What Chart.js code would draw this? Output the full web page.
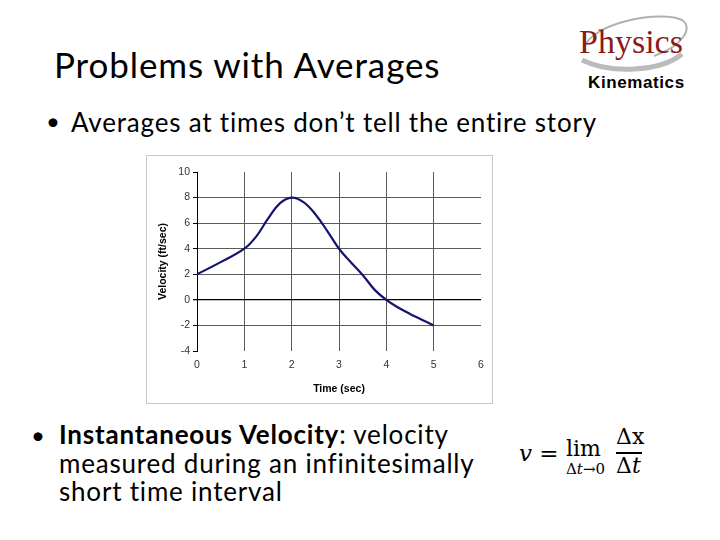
<!DOCTYPE html>
<html>
<head>
<meta charset="utf-8">
<script src="https://cdn.jsdelivr.net/npm/chart.js@4.4.1/dist/chart.umd.min.js"></script>
<style>
  body { margin: 0; background: #fff; }
  #slide { position: relative; width: 720px; height: 540px; overflow: hidden; font-family: Lato, "Open Sans", sans-serif; color: #000; }
  .abs { position: absolute; white-space: nowrap; }
  #title { left: 54px; top: 43px; font-size: 35px; letter-spacing: 0.9px; }
  #dot1 { left: 46px; top: 106px; font-size: 24px; }
  #bullet1 { left: 71px; top: 106px; font-size: 26px; letter-spacing: 0.8px; }
  #dot2 { left: 31px; top: 420px; font-size: 24px; }
  #bullet2 { left: 59px; top: 420px; font-size: 26px; line-height: 28.5px; letter-spacing: 0.8px; }
  #chartBox { left: 146px; top: 155px; width: 345px; height: 247px; border: 1px solid #c8c8c8; background: #fff; }
  #physics { left: 579px; top: 23px; font-family: "Liberation Serif", serif; font-size: 34px; color: #8b1a1a; }
  #kin { left: 588px; top: 73px; font-family: "Liberation Sans", Arial, sans-serif; font-weight: bold; font-size: 17px; letter-spacing: 0.6px; }
  .m { position: absolute; white-space: nowrap; font-family: "DejaVu Serif", serif; }
</style>
</head>
<body>
<div id="slide">
  <svg class="abs" style="left:570px;top:10px" width="150" height="70">
    <path d="M14 38 C 22 12, 92 0, 112 10 C 124 18, 112 36, 84 46" fill="none" stroke="#b0b0b0" stroke-width="2"/>
    <path d="M12 50 C 40 64, 90 62, 112 44" fill="none" stroke="#bbbbbb" stroke-width="5"/>
  </svg>
  <div id="physics" class="abs">Physics</div>
  <div id="kin" class="abs">Kinematics</div>
  <div id="title" class="abs">Problems with Averages</div>
  <div id="dot1" class="abs">•</div>
  <div id="bullet1" class="abs">Averages at times don’t tell the entire story</div>
  <div id="chartBox" class="abs"><canvas id="chart" width="345" height="247"></canvas></div>
  <div id="dot2" class="abs">•</div>
  <div id="bullet2" class="abs"><b>Instantaneous Velocity</b>: velocity<br>measured during an infinitesimally<br>short time interval</div>
  <div class="m" style="left:519px;top:440px;font-size:23px"><i>v</i> =</div>
  <div class="m" style="left:566px;top:436px;font-size:22px">lim</div>
  <div class="m" style="left:566px;top:460px;font-size:15px">Δ<i>t</i>→0</div>
  <div class="m" style="left:616px;top:424px;font-size:22px">Δx</div>
  <div class="abs" style="left:616px;top:452px;width:26px;height:1.5px;background:#000"></div>
  <div class="m" style="left:616px;top:453px;font-size:22px">Δ<i>t</i></div>
</div>
<script>
// values
const timeSec = [0, 0.5, 1, 1.25, 1.5, 1.75, 2, 2.25, 2.5, 2.75, 3, 3.25, 3.5, 3.75, 4, 4.25, 4.5, 4.75, 5];
const velocity = [2, 2.95, 4, 4.95, 6.35, 7.55, 8, 7.65, 6.7, 5.4, 4, 2.95, 1.95, 0.8, 0, -0.6, -1.1, -1.55, -2];
const xTicks = [0, 1, 2, 3, 4, 5, 6];
const yTicks = [-4, -2, 0, 2, 4, 6, 8, 10];

const points = timeSec.map((t, i) => ({ x: t, y: velocity[i] }));
const tickFont = { family: "Liberation Sans, Arial, sans-serif", size: 10.5 };

new Chart(document.getElementById("chart"), {
    type: "scatter",
    data: {
        datasets: [{
            data: points,
            showLine: true,
            borderColor: "#14146e",
            borderWidth: 2.2,
            pointRadius: 0,
            tension: 0.4
        }]
    },
    options: {
        responsive: false,
        animation: false,
        layout: { padding: { left: 6, top: 16, right: 11, bottom: 0 } },
        plugins: { legend: { display: false }, tooltip: { enabled: false } },
        scales: {
            x: {
                type: "linear",
                min: 0, max: 6,
                afterBuildTicks: s => { s.ticks = xTicks.map(v => ({ value: v })); },
                afterFit: s => { s.height = 52; },
                border: { display: false },
                grid: {
                    drawTicks: false,
                    color: c => (c.tick.value === 0 || c.tick.value === 6) ? "rgba(0,0,0,0)" : "#5a5a5a"
                },
                ticks: { color: "#333", font: tickFont, padding: 8 },
                title: { display: true, text: "Time (sec)", color: "#000", font: { family: tickFont.family, size: 10.5, weight: "bold" }, padding: { top: 0, bottom: 8 } }
            },
            y: {
                type: "linear",
                min: -4, max: 10,
                afterBuildTicks: s => { s.ticks = yTicks.map(v => ({ value: v })); },
                afterFit: s => { s.width = 44; },
                border: { display: true, color: "#000", width: 1 },
                grid: {
                    tickLength: 4,
                    color: c => c.tick.value === 0 ? "#000" : ((c.tick.value === 10 || c.tick.value === -4) ? "rgba(0,0,0,0)" : "#5a5a5a"),
                    tickColor: "#000",
                    lineWidth: c => c.tick.value === 0 ? 1.3 : 1
                },
                ticks: { color: "#333", font: tickFont, padding: 3 },
                title: { display: true, text: "Velocity (ft/sec)", color: "#000", font: { family: tickFont.family, size: 10.5, weight: "bold" }, padding: { bottom: 2 } }
            }
        }
    }
});
</script>
</body>
</html>
